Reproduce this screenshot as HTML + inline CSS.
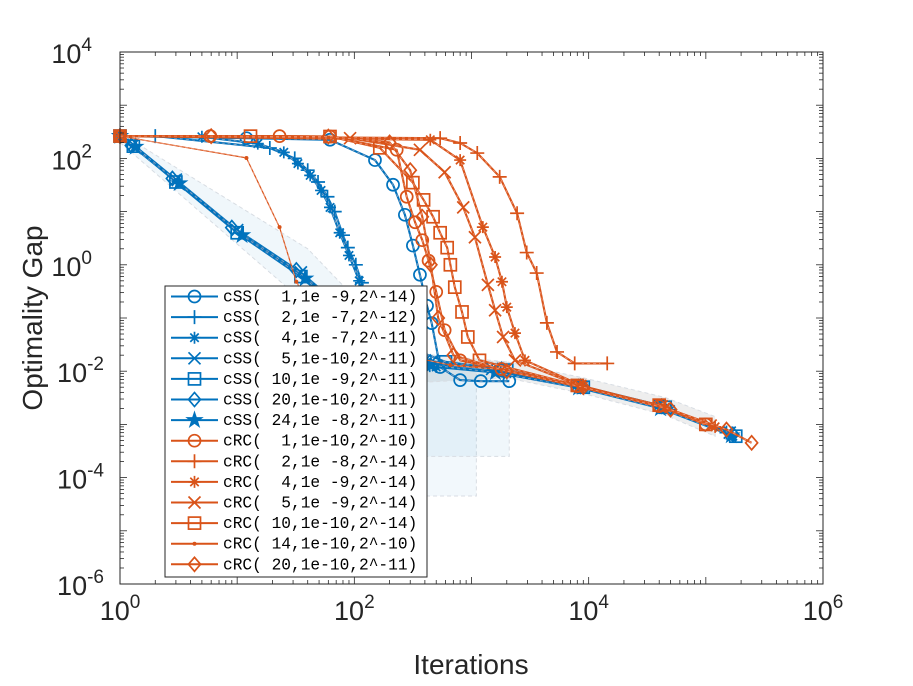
<!DOCTYPE html>
<html><head><meta charset="utf-8">
<style>
body{margin:0;background:#fff;}
svg{display:block;}
text{font-family:"Liberation Sans",Arial,sans-serif;fill:#262626;}
.mono{font-family:"Liberation Mono","DejaVu Sans Mono",monospace;}
</style></head>
<body>
<svg id="chart" width="913" height="686" xmlns="http://www.w3.org/2000/svg">
<g id="bands"></g>
<g id="series"></g>
<g id="axes"></g>
<g id="legend"></g>
</svg>
<script>
// ---- data ----
const xTicks = [0, 2, 4, 6];
const yTicks = [4, 2, 0, -2, -4, -6];
const seriesNames = ["cSS(  1,1e -9,2^-14)","cSS(  2,1e -7,2^-12)","cSS(  4,1e -7,2^-11)","cSS(  5,1e-10,2^-11)","cSS( 10,1e -9,2^-11)","cSS( 20,1e-10,2^-11)","cSS( 24,1e -8,2^-11)","cRC(  1,1e-10,2^-10)","cRC(  2,1e -8,2^-14)","cRC(  4,1e -9,2^-14)","cRC(  5,1e -9,2^-14)","cRC( 10,1e-10,2^-14)","cRC( 14,1e-10,2^-10)","cRC( 20,1e-10,2^-11)"];
const seriesMarkers = ["circle","plus","star","x","square","diamond","pentagram","circle","plus","star","x","square","dot","diamond"];
const seriesGroup = ["cSS","cSS","cSS","cSS","cSS","cSS","cSS","cRC","cRC","cRC","cRC","cRC","cRC","cRC"];
const iters0 = [1,12,62,150,214,270,316,363,417,457,540,800,1200,2100];
const gaps0  = [263,240,224,93,32,8.7,2.3,0.65,0.17,0.08,0.012,0.0068,0.0065,0.0065];
const iters1 = [1,2,19,31,40,49,59,68,80,88,103,116,150,440,1500,8000,40000,150000];
const gaps1  = [263,262,157,100,60,36,19,10,3.6,2.1,1,0.46,0.039,0.013,0.010,0.005,0.0022,0.0007];
const iters2 = [1,5,15,25,33,42,52,62,75,90,110,160,500,2000,9000,50000,170000];
const gaps2  = [263,255,190,130,80,48,25,12,4,1.5,0.5,0.05,0.012,0.009,0.0048,0.0019,0.0006];
const iters3 = [1,1.3,3,10,35,120,400,1500,8000,40000,160000];
const gaps3  = [263,180,40,4.5,0.72,0.07,0.016,0.011,0.0055,0.0023,0.0007];
const iters4 = [1,1.3,3,10,35,150,600,2000,9000,45000,180000];
const gaps4  = [263,170,36,4,0.6,0.05,0.015,0.0105,0.005,0.0021,0.0006];
const iters5 = [1,1.25,2.8,9,32,130,500,1800,8500,42000,170000];
const gaps5  = [263,175,42,5,0.8,0.06,0.014,0.0108,0.0052,0.0022,0.00065];
const iters6 = [1,1.35,3.2,11,38,140,450,1600,8200,41000,165000];
const gaps6  = [263,165,34,3.6,0.55,0.045,0.013,0.0095,0.0049,0.002,0.00062];
const iters7 = [1,5.9,23,62,230,280,330,380,430,500,590,800,1800,8000,40000,100000];
const gaps7  = [263,262,262,258,145,19,6.3,2.9,1.2,0.31,0.059,0.016,0.011,0.0052,0.0022,0.001];
const iters8 = [1,540,800,1120,1740,2450,2960,3600,4400,5370,7600,14400];
const gaps8  = [263,240,195,126,45,9.3,1.7,0.7,0.081,0.023,0.014,0.014];
const iters9 = [1,445,800,1250,1590,1820,2000,2350,2860,9000,45000,120000];
const gaps9  = [263,224,93,5.1,1.4,0.48,0.16,0.052,0.016,0.0052,0.0021,0.0009];
const iters10 = [1,92,363,590,850,1070,1380,1590,1860,2350,8500,42000,110000];
const gaps10  = [263,240,145,55,12,3.3,0.42,0.14,0.044,0.016,0.0053,0.0022,0.00095];
const iters11 = [1,13,62,165,316,390,470,540,620,660,720,830,930,1170,8000,40000,100000];
const gaps11  = [263,262,258,158,35,16.6,8,4,2.1,1,0.38,0.13,0.044,0.016,0.0054,0.0023,0.001];
const iters12 = [1,12,23,32,62,660,2000,9000,45000,110000];
const gaps12  = [263,102,5.1,0.48,0.039,0.013,0.0105,0.0051,0.0021,0.00095];
const iters13 = [1,6,60,200,300,380,450,520,700,2000,9000,50000,150000,246000];
const gaps13  = [263,262,258,200,60,8,1,0.1,0.02,0.01,0.005,0.0019,0.0008,0.00045];
const allIters = [iters0,iters1,iters2,iters3,iters4,iters5,iters6,iters7,iters8,iters9,iters10,iters11,iters12,iters13];
const allGaps = [gaps0,gaps1,gaps2,gaps3,gaps4,gaps5,gaps6,gaps7,gaps8,gaps9,gaps10,gaps11,gaps12,gaps13];
const bandAIters = [270,1100,1100,270];
const bandAGaps  = [0.015,0.015,0.000045,0.000045];
const bandBIters = [270,2100,2100,330];
const bandBGaps  = [0.015,0.015,0.00025,0.00025];
const bandTailIters = [300,2000,9000,45000,120000,120000,45000,9000,2000,300];
const bandTailGaps  = [0.022,0.015,0.0075,0.0032,0.0014,0.0006,0.0015,0.0038,0.0075,0.006];
const bandLineIters=[1,40,200,200,30,1];
const bandLineGaps=[300,2,0.05,0.02,0.3,200];

// ---- layout ----
const L=120,R=823,T=52,B=584;
const X0=0,X1=6,Y0=-6,Y1=4;
const ns="http://www.w3.org/2000/svg";
function xs(v){return L+(Math.log10(v)-X0)/(X1-X0)*(R-L);}
function ys(v){return B-(Math.log10(v)-Y0)/(Y1-Y0)*(B-T);}
function mk(tag,attrs,parent){const e=document.createElementNS(ns,tag);for(const k in attrs)e.setAttribute(k,attrs[k]);parent.appendChild(e);return e;}
const colors={cSS:"#0072BD",cRC:"#D95319"};

const bg=document.getElementById('bands');
function band(it,gp,fill,name){
  const p=mk('polygon',{points:it.map((v,i)=>xs(v)+','+ys(gp[i])).join(' '),fill:fill,stroke:'#d8dde3','stroke-dasharray':'4,3','stroke-width':1},bg);
  
  
}
band(bandAIters,bandAGaps,'rgba(0,114,189,0.05)','variance-band-a');
band(bandBIters,bandBGaps,'rgba(0,114,189,0.06)','variance-band-b');
band(bandTailIters,bandTailGaps,'rgba(120,120,120,0.13)','variance-band-tail');
band(bandLineIters,bandLineGaps,'rgba(0,114,189,0.06)','variance-band-early');

function marker(type,x,y,c,parent){
  const s=6;let e;
  const st={fill:'none',stroke:c,'stroke-width':1.7};
  if(type==='circle')e=mk('circle',Object.assign({cx:x,cy:y,r:s},st),parent);
  else if(type==='square')e=mk('rect',Object.assign({x:x-s,y:y-s,width:2*s,height:2*s},st),parent);
  else if(type==='diamond')e=mk('polygon',Object.assign({points:`${x},${y-s-1} ${x+s},${y} ${x},${y+s+1} ${x-s},${y}`},st),parent);
  else if(type==='plus')e=mk('path',Object.assign({d:`M${x-s-1},${y}H${x+s+1}M${x},${y-s-1}V${y+s+1}`},st),parent);
  else if(type==='x')e=mk('path',Object.assign({d:`M${x-s},${y-s}L${x+s},${y+s}M${x-s},${y+s}L${x+s},${y-s}`},st),parent);
  else if(type==='star')e=mk('path',Object.assign({d:`M${x-s},${y}H${x+s}M${x},${y-s}V${y+s}M${x-s*.7},${y-s*.7}L${x+s*.7},${y+s*.7}M${x-s*.7},${y+s*.7}L${x+s*.7},${y-s*.7}`},st),parent);
  else if(type==='pentagram'){let pts=[];for(let i=0;i<10;i++){const r=i%2?s*0.45:s+1;const a=-Math.PI/2+i*Math.PI/5;pts.push((x+r*Math.cos(a))+','+(y+r*Math.sin(a)));}e=mk('polygon',Object.assign({points:pts.join(' ')},st,{fill:c}),parent);}
  else e=mk('circle',{cx:x,cy:y,r:2,fill:c},parent);
  return e;
}

const sg=document.getElementById('series');
allIters.forEach((it,si)=>{
  const c=colors[seriesGroup[si]];
  const g=mk('g',{},sg);
  
  
  const pts=it.map((v,i)=>xs(v).toFixed(1)+','+ys(allGaps[si][i]).toFixed(1)).join(' ');
  const lw=seriesMarkers[si]==='dot'?1.2:2.1;
  const ln=mk('polyline',{points:pts,fill:'none',stroke:c,'stroke-width':lw,'stroke-linejoin':'round'},g);
  
  
  mk('polyline',{points:pts,fill:'none',stroke:'rgba(255,200,190,0.6)','stroke-width':0.8,'stroke-dasharray':'3,3'},g);
  it.forEach((v,i)=>{
    const m=marker(seriesMarkers[si],xs(v),ys(allGaps[si][i]),c,g);
    
    
  });
});

const ag=document.getElementById('axes');
const box=mk('rect',{x:L,y:T,width:R-L,height:B-T,fill:'none',stroke:'#262626','stroke-width':1},ag);


for(let d=X0;d<X1;d++){for(let k=1;k<10;k++){const x=L+(d+Math.log10(k))/(X1-X0)*(R-L);const len=k===1?7:4;
  mk('line',{x1:x,y1:B,x2:x,y2:B-len,stroke:'#262626','stroke-width':0.8},ag);
  mk('line',{x1:x,y1:T,x2:x,y2:T+len,stroke:'#262626','stroke-width':0.8},ag);}}
for(let d=Y0;d<Y1;d++){for(let k=1;k<10;k++){const y=B-(d-Y0+Math.log10(k))/(Y1-Y0)*(B-T);const len=k===1?7:4;
  mk('line',{x1:L,y1:y,x2:L+len,y2:y,stroke:'#262626','stroke-width':0.8},ag);
  mk('line',{x1:R,y1:y,x2:R-len,y2:y,stroke:'#262626','stroke-width':0.8},ag);}}
xTicks.forEach(e=>{
  const x=xs(Math.pow(10,e));
  const t=mk('text',{x:x,y:620,'text-anchor':'middle','font-size':27},ag);
  
  
  t.innerHTML='10<tspan dy="-12" font-size="19">'+e+'</tspan>';
});
yTicks.forEach(e=>{
  const y=ys(Math.pow(10,e));
  const t=mk('text',{x:e<0?104:92,y:y+11,'text-anchor':'end','font-size':27},ag);
  
  
  t.innerHTML='10<tspan dy="-12" font-size="19">'+e+'</tspan>';
});
const xl=mk('text',{x:471,y:674,'text-anchor':'middle','font-size':28},ag);


xl.textContent='Iterations';
const yl=mk('text',{x:42,y:318,'text-anchor':'middle','font-size':28,transform:'rotate(-90 42 318)'},ag);


yl.textContent='Optimality Gap';

const lg=document.getElementById('legend');
const lb=mk('rect',{x:165,y:286,width:262,height:291,fill:'#fff',stroke:'#262626','stroke-width':1},lg);


seriesNames.forEach((n,i)=>{
  const y=296.5+i*20.6;const c=colors[seriesGroup[i]];
  const g=mk('g',{},lg);
  
  
  mk('line',{x1:171,y1:y,x2:218,y2:y,stroke:c,'stroke-width':2},g);
  marker(seriesMarkers[i],194.5,y,c,g);
  const t=mk('text',{x:223,y:y+5,'font-size':16.2},g);
  t.setAttribute('class','mono');
  t.setAttribute('style','white-space:pre;fill:#000');
  t.textContent=n;
});
</script>
</body></html>
